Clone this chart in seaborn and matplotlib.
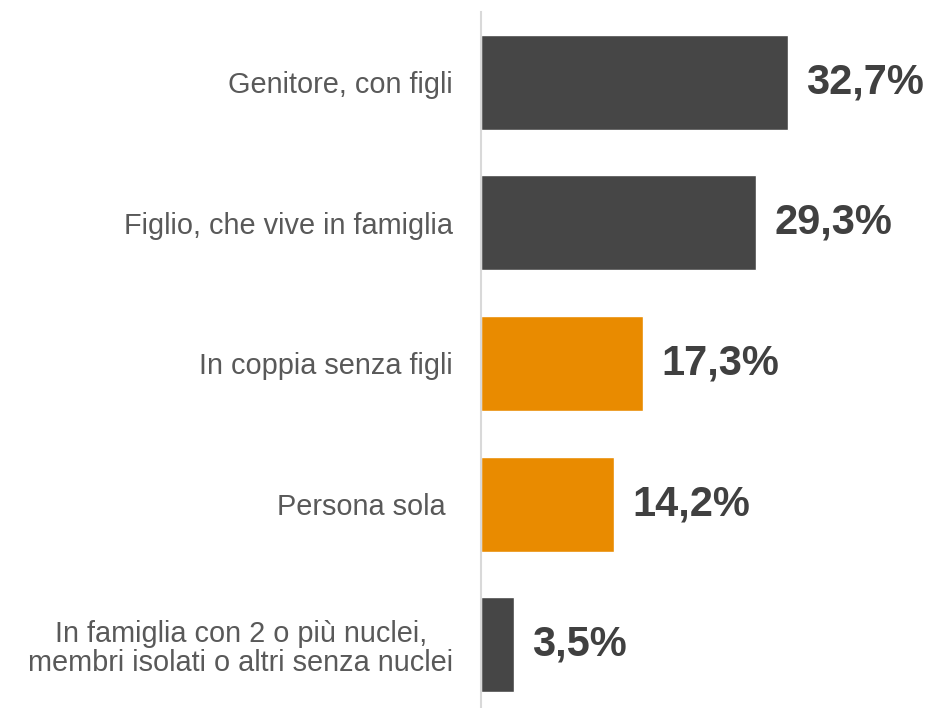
import matplotlib
matplotlib.use("Agg")
import matplotlib.pyplot as plt
import seaborn as sns
import pandas as pd

categories = [
    "Genitore, con figli",
    "Figlio, che vive in famiglia",
    "In coppia senza figli",
    "Persona sola ",
    "In famiglia con 2 o più nuclei,\nmembri isolati o altri senza nuclei",
]
values = [32.7, 29.3, 17.3, 14.2, 3.5]
groups = ["dark", "dark", "orange", "orange", "dark"]
value_labels = ["32,7%", "29,3%", "17,3%", "14,2%", "3,5%"]

DARK = "#464646"
ORANGE = "#E98B00"

sns.set_theme(style="white")
plt.rcParams["font.family"] = ["Liberation Sans", "DejaVu Sans"]

df = pd.DataFrame({"categoria": categories, "valore": values, "gruppo": groups})

fig = plt.figure(figsize=(9.32, 7.08), dpi=100)
W, H = 932, 708
left_px = 481
ax = fig.add_axes([left_px / W, -7 / H, (W - left_px) / W, 703 / H])

sns.barplot(
    data=df, x="valore", y="categoria", hue="gruppo",
    palette={"dark": DARK, "orange": ORANGE},
    orient="h", width=0.676, legend=False, ax=ax, saturation=1,
)

ax.set_xlim(0, (W - left_px) / 9.39)
ax.set_ylim(4.5, -0.5)
ax.set_xlabel("")
ax.set_ylabel("")
ax.set_xticks([])
ax.tick_params(axis="y", length=0, pad=20)
for lab in ax.get_yticklabels():
    lab.set_fontsize(20.8)
    lab.set_color("#595959")
    lab.set_horizontalalignment("right")
    lab.set_multialignment("center")
    lab.set_linespacing(1.05)

for s in ["top", "right", "bottom"]:
    ax.spines[s].set_visible(False)
ax.spines["left"].set_color("#D9D9D9")
ax.spines["left"].set_linewidth(1.5)

for i, (v, t) in enumerate(zip(values, value_labels)):
    ax.annotate(t, xy=(v, i), xytext=(13, 0), textcoords="offset points",
                ha="left", va="center", fontsize=30, fontweight="bold",
                color="#404040")

fig.savefig("out.png", dpi=100)
